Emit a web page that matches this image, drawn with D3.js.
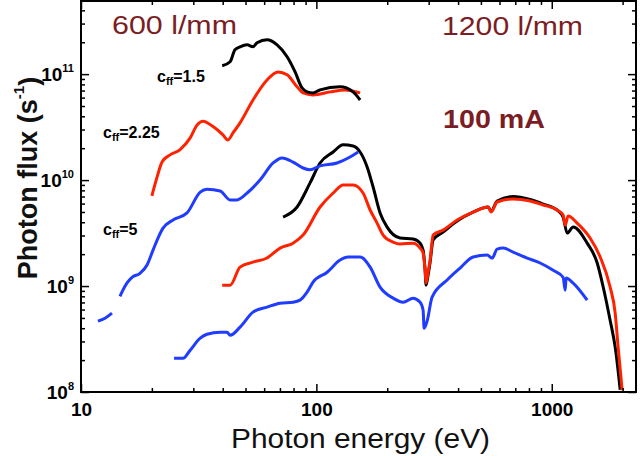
<!DOCTYPE html>
<html>
<head>
<meta charset="utf-8">
<script src="https://cdn.jsdelivr.net/npm/d3@7"></script>
<style>
  html, body { margin: 0; padding: 0; background: #fff; }
  svg { display: block; font-family: "Liberation Sans", Arial, sans-serif; }
</style>
</head>
<body>
<svg id="chart" width="640" height="456"></svg>
<script>
// ---------- data: [photon energy (eV), photon flux (1/s)] ----------
const black600 = [[39.8,1.20e11],[43,1.31e11],[45.1,1.70e11],[47.4,1.81e11],[50.8,1.89e11],[53.8,1.81e11],[56,1.98e11],[61.7,2.11e11],[68.1,1.89e11],[75.1,1.46e11],[81.2,1.05e11],[86.9,7.4e10],[91.3,6.8e10],[96.8,6.65e10],[103.7,7.1e10],[126.1,7.6e10],[143.2,6.8e10],[153.4,5.7e10]];
const red600 = [[20,7.1e9],[21,1.05e10],[22.1,1.48e10],[23.9,1.73e10],[26.3,1.93e10],[29.1,2.5e10],[31.1,3.3e10],[33,3.6e10],[36.4,3.2e10],[40.1,2.67e10],[42.1,2.39e10],[44.3,2.8e10],[47.4,3.47e10],[53.8,5.7e10],[61.7,8.8e10],[68.7,1.05e11],[75.1,9.85e10],[82.8,7.6e10],[87.8,6.65e10],[96.8,6.37e10],[114.4,6.8e10],[132.4,7.1e10],[153.4,6.65e10]];
const blue600 = [[11.8,4.66e8],[12.65,4.97e8],[13.54,5.55e8],null,[14.65,8.0e8],[14.94,8.8e8],[15.69,1.07e9],[16.47,1.21e9],[17.81,1.32e9],[19.08,1.58e9],[20.23,2.18e9],[21.24,2.84e9],[22.31,3.52e9],[24.6,4.2e9],[28.2,4.9e9],[32.1,7.7e9],[34.3,8.2e9],[39,7.9e9],[43,6.5e9],[46,6.5e9],[50.8,7.55e9],[57.6,1.0e10],[65.5,1.45e10],[71.5,1.62e10],[79.6,1.48e10],[87.8,1.3e10],[94,1.25e10],[103.7,1.36e10],[122.4,1.45e10],[139.1,1.65e10],[150.4,1.84e10]];
const black1200 = [[72.2,4.48e9],[82.8,5.57e9],[94,9.4e9],[103.7,1.45e10],[117.8,1.84e10],[129.9,2.15e10],[143.2,2.1e10],[153.4,1.84e10],[164.3,1.33e10],[174.2,8.6e9],[186.5,4.9e9],[199.8,3.6e9],[226.8,2.84e9],[257.6,2.78e9],[275.9,2.54e9],[284.1,2.18e9],[289.7,1.41e9],[292.5,1.02e9],[298.3,1.27e9],[304.2,1.68e9],[313.3,2.72e9],[345.5,3.23e9],[396.3,4.11e9],[463.4,4.99e9],[536.7,5.57e9],[552.7,5.1e9],[586.1,6.35e9],[685.5,7.0e9],[809.4,6.55e9],[919.3,5.94e9],[1054,5.22e9],[1118,4.48e9],[1163,3.16e9],[1233,3.6e9],[1414,2.54e9],[1560,1.65e9],[1654,9.8e8],[1770,4.76e8],[1860,2.65e8],[1953,1.05e8]];
const red1200 = [[39.8,1.02e9],[43,1.02e9],[47.4,1.51e9],[53.8,1.68e9],[61.7,1.84e9],[70.1,2.28e9],[79.6,2.54e9],[87.8,3.03e9],[103.7,5.57e9],[117.8,7.55e9],[129.9,9.0e9],[143.2,9.0e9],[157.9,7.55e9],[169.2,5.22e9],[181.1,3.93e9],[192.1,3.03e9],[211.8,2.6e9],[226.8,2.49e9],[257.6,2.54e9],[275.9,2.28e9],[284.1,2.05e9],[289.7,1.41e9],[292.5,1.07e9],[298.3,1.35e9],[304.2,1.76e9],[313.3,3.03e9],[345.5,3.37e9],[396.3,4.2e9],[463.4,4.99e9],[536.7,5.57e9],[552.7,4.99e9],[586.1,6.21e9],[685.5,6.63e9],[809.4,6.35e9],[919.3,5.82e9],[1054,5.22e9],[1118,4.68e9],[1140,3.76e9],[1174,4.58e9],[1282,3.93e9],[1455,2.84e9],[1606,1.88e9],[1770,9.8e8],[1860,5.55e8],[1914,2.65e8],[1991,1.04e8]];
const blue1200 = [[24.85,2.08e8],[27.14,2.08e8],[29.1,2.48e8],[32.1,3.22e8],[34.3,3.51e8],[39,3.67e8],[41.74,3.67e8],[43,3.43e8],[47.4,4.09e8],[53.8,5.67e8],[61.7,6.32e8],[70.1,6.89e8],[79.6,7.04e8],[85.2,7.36e8],[91.3,8.76e8],[96.8,1.09e9],[111.1,1.35e9],[126.1,1.76e9],[136.4,1.88e9],[153.4,1.88e9],[169.2,1.51e9],[186.5,9.76e8],[211.8,7.69e8],[233.6,7.04e8],[257.6,7.69e8],[275.9,7.04e8],[284.1,5.92e8],[286.9,4.0e8],[295.4,4.66e8],[310.2,7.85e8],[359.4,1.14e9],[408.1,1.48e9],[463.4,1.88e9],[531.5,1.96e9],[558.2,1.835e9],[586.1,2.23e9],[621.6,2.28e9],[685.5,2.09e9],[786.3,1.835e9],[892.6,1.65e9],[1014,1.41e9],[1118,1.21e9],[1140,9.15e8],[1151,1.19e9],[1233,1.065e9],[1414,7.36e8]];

const xMajorTicks = [10, 100, 1000];
const xMinorTicks = [20,30,40,50,60,70,80,90,200,300,400,500,600,700,800,900,2000];
const yMajorTicks = [1e8, 1e9, 1e10, 1e11];
const yMinorTicks = [2e8,3e8,4e8,5e8,6e8,7e8,8e8,9e8,2e9,3e9,4e9,5e9,6e9,7e9,8e9,9e9,2e10,3e10,4e10,5e10,6e10,7e10,8e10,9e10,2e11,3e11,4e11];
const xTickLabels = ["10", "100", "1000"];
const yTickExponents = ["8", "9", "10", "11"];

const cffLabels = ["=1.5", "=2.25", "=5"];
const gratingLabels = ["600 l/mm", "1200 l/mm"];
const currentLabel = "100 mA";
const xTitle = "Photon energy (eV)";
const yTitle = "Photon flux (s";

// ---------- layout ----------
const svg = d3.select("#chart");
const L = 81, R = 636, T = 1, B = 392;
const x = d3.scaleLog().domain([10, 2280]).range([L, R]);
const y = d3.scaleLog().domain([1e8, 4.9e11]).range([B, T]);

const COL = { black: "#000000", red: "#ff2200", blue: "#1f3cff", label: "#7b1d24" };

// ---------- series ----------
const line = d3.line().defined(d => d).curve(d3.curveMonotoneX)
  .x(d => x(d[0])).y(d => y(d[1]));
const series = [
  [black1200, COL.black], [red1200, COL.red], [blue1200, COL.blue],
  [blue600, COL.blue], [red600, COL.red], [black600, COL.black]
];
svg.append("clipPath").attr("id", "clip").append("rect")
  .attr("x", L).attr("y", T).attr("width", R - L).attr("height", B - T);
svg.append("g").attr("clip-path", "url(#clip)").selectAll("path").data(series).join("path")
  .attr("d", d => line(d[0]))
  .attr("fill", "none").attr("stroke", d => d[1])
  .attr("stroke-width", 3).attr("stroke-linejoin", "round").attr("stroke-linecap", "butt");

// ---------- axes ----------
function styleAxis(g) {
  g.select(".domain").remove();
  g.selectAll(".tick line").attr("stroke", "#000").attr("stroke-width", 1.5);
}
// bottom
svg.append("g").attr("transform", `translate(0,${B})`)
  .call(d3.axisBottom(x).tickValues(xMajorTicks).tickSize(-8).tickPadding(11)
    .tickFormat((d, i) => xTickLabels[i]))
  .call(styleAxis)
  .call(g => g.selectAll(".tick text").attr("fill", "#000")
    .attr("font-size", 19).attr("font-weight", "bold")
    .attr("font-family", "Liberation Sans, Arial, sans-serif"));
svg.append("g").attr("transform", `translate(0,${B})`)
  .call(d3.axisBottom(x).tickValues(xMinorTicks).tickSize(-4).tickFormat(""))
  .call(styleAxis);
// top
svg.append("g").attr("transform", `translate(0,${T})`)
  .call(d3.axisTop(x).tickValues(xMajorTicks).tickSize(-8).tickFormat(""))
  .call(styleAxis);
svg.append("g").attr("transform", `translate(0,${T})`)
  .call(d3.axisTop(x).tickValues(xMinorTicks).tickSize(-4).tickFormat(""))
  .call(styleAxis);
// left
svg.append("g").attr("transform", `translate(${L},0)`)
  .call(d3.axisLeft(y).tickValues(yMajorTicks).tickSize(-8).tickPadding(7).tickFormat(""))
  .call(styleAxis)
  .call(g => g.selectAll(".tick text").each(function(d, i) {
    const t = d3.select(this).attr("fill", "#000")
      .attr("font-family", "Liberation Sans, Arial, sans-serif")
      .attr("font-weight", "bold").attr("font-size", 19);
    t.append("tspan").text("10");
    t.append("tspan").attr("font-size", 11).attr("dy", "-0.75em").text(yTickExponents[i]);
  }));
svg.append("g").attr("transform", `translate(${L},0)`)
  .call(d3.axisLeft(y).tickValues(yMinorTicks).tickSize(-4).tickFormat(""))
  .call(styleAxis);
// right
svg.append("g").attr("transform", `translate(${R},0)`)
  .call(d3.axisRight(y).tickValues(yMajorTicks).tickSize(-8).tickFormat(""))
  .call(styleAxis);
svg.append("g").attr("transform", `translate(${R},0)`)
  .call(d3.axisRight(y).tickValues(yMinorTicks).tickSize(-4).tickFormat(""))
  .call(styleAxis);
// frame
svg.append("rect").attr("x", L).attr("y", T).attr("width", R - L).attr("height", B - T)
  .attr("fill", "none").attr("stroke", "#000").attr("stroke-width", 2);

// ---------- titles ----------
svg.append("text").attr("x", (L + R) / 2 + 2).attr("y", 448)
  .attr("text-anchor", "middle").attr("font-size", 27).attr("fill", "#111")
  .attr("textLength", 259).attr("lengthAdjust", "spacingAndGlyphs")
  .text(xTitle);
const yt = svg.append("text").attr("transform", "translate(37,178) rotate(-90)")
  .attr("text-anchor", "middle").attr("font-size", 27).attr("font-weight", "bold").attr("fill", "#111");
yt.append("tspan").text(yTitle);
yt.append("tspan").attr("font-size", 15).attr("dy", "-0.9em").text("-1");
yt.append("tspan").attr("dy", "0.55em").text(")");

// ---------- annotations ----------
svg.append("text").attr("x", 112).attr("y", 34).attr("font-size", 26).attr("fill", COL.label)
  .attr("textLength", 125).attr("lengthAdjust", "spacingAndGlyphs").text(gratingLabels[0]);
svg.append("text").attr("x", 442).attr("y", 35).attr("font-size", 26).attr("fill", COL.label)
  .attr("textLength", 141).attr("lengthAdjust", "spacingAndGlyphs").text(gratingLabels[1]);
svg.append("text").attr("x", 443).attr("y", 128).attr("font-size", 25).attr("font-weight", "bold")
  .attr("fill", COL.label).attr("textLength", 102).attr("lengthAdjust", "spacingAndGlyphs")
  .text(currentLabel);

const cffPos = [[157, 82], [103, 138], [103, 235]];
cffLabels.forEach((lab, i) => {
  const t = svg.append("text").attr("x", cffPos[i][0]).attr("y", cffPos[i][1])
    .attr("font-size", 16).attr("font-weight", "bold").attr("fill", "#000");
  t.append("tspan").text("c");
  t.append("tspan").attr("font-size", 11).attr("dy", 3).text("ff");
  t.append("tspan").attr("dy", -3).text(lab);
});
</script>
</body>
</html>
